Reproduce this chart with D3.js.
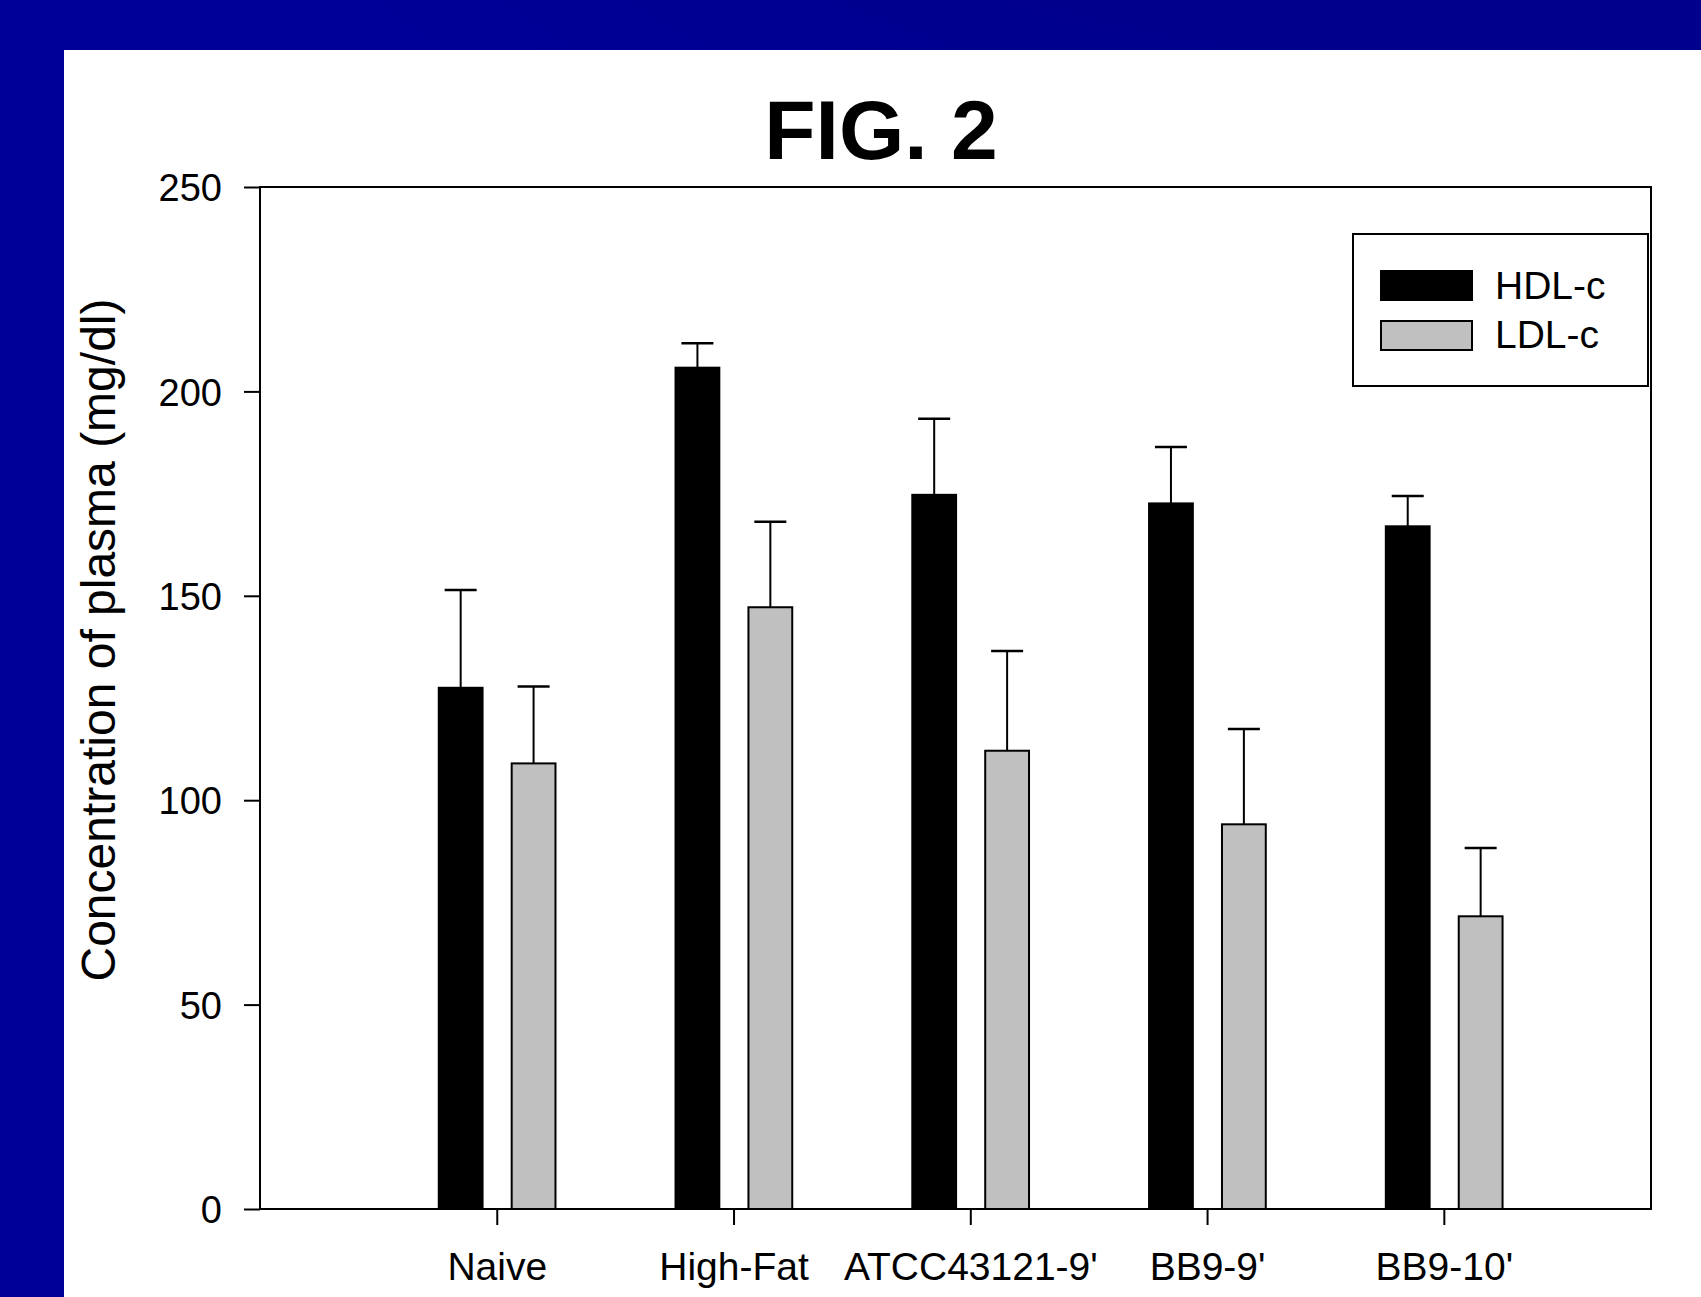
<!DOCTYPE html>
<html>
<head>
<meta charset="utf-8">
<script src="https://cdn.jsdelivr.net/npm/d3@7"></script>
<style>
    body { margin: 0; background: #000099; }
    svg { display: block; }
    text { font-family: "Liberation Sans", Arial, sans-serif; fill: #000; }
</style>
</head>
<body>
<div id="chart"></div>
<script>
// data
const categories = ["Naive", "High-Fat", "ATCC43121-9'", "BB9-9'", "BB9-10'"];
const hdlMean = [127.5, 205.8, 174.7, 172.6, 167.0];
const hdlErr = [23.9, 6.0, 18.6, 13.8, 7.4];
const ldlMean = [109.0, 147.2, 112.1, 94.1, 71.6];
const ldlErr = [18.8, 20.9, 24.4, 23.3, 16.7];
const yTicks = [0, 50, 100, 150, 200, 250];
const seriesNames = ["HDL-c", "LDL-c"];
const seriesColors = ["#000000", "#c0c0c0"];

const W = 1701, H = 1297;
let svg = d3.select("#chart").append("svg")
    .attr("width", W)
    .attr("height", H);

// slide background
let defs = svg.append("defs");
let grad = defs.append("radialGradient")
    .attr("id", "topShade")
    .attr("cx", "0.85").attr("cy", "-0.6").attr("r", "0.9");
grad.append("stop").attr("offset", "0").attr("stop-color", "#000070");
grad.append("stop").attr("offset", "1").attr("stop-color", "#000099");
svg.append("rect").attr("width", W).attr("height", H).attr("fill", "url(#topShade)");
svg.append("rect").attr("x", 64).attr("y", 50).attr("width", W - 64).attr("height", H - 50).attr("fill", "#fff");

let plot = { left: 260, right: 1651, top: 187, bottom: 1209 };

let x = d3.scaleLinear()
    .domain([0, 5.875])
    .range([plot.left, plot.right]);
let y = d3.scaleLinear()
    .domain([0, 250])
    .range([plot.bottom, plot.top]);

// title
svg.append("text")
    .attr("x", 881)
    .attr("y", 159)
    .attr("text-anchor", "middle")
    .style("font-size", "84px")
    .style("font-weight", "bold")
    .text("FIG. 2");

// y axis
let yAxis = svg.append("g")
    .attr("transform", "translate(" + plot.left + ",0)")
    .call(d3.axisLeft(y).tickValues(yTicks).tickSize(16).tickPadding(22));
yAxis.select(".domain").remove();
yAxis.selectAll("line").attr("stroke", "#000").attr("stroke-width", 2);
yAxis.selectAll("text").style("font-size", "38px").attr("dy", "0.36em");

// x axis
let xAxis = svg.append("g")
    .attr("transform", "translate(0," + plot.bottom + ")")
    .call(d3.axisBottom(x).tickValues([1, 2, 3, 4, 5]).tickFormat(d => categories[d - 1]).tickSize(16));
xAxis.select(".domain").remove();
xAxis.selectAll("line").attr("stroke", "#000").attr("stroke-width", 2);
xAxis.selectAll("text").style("font-size", "39px").attr("dy", null).attr("y", 71);

// bars
let groups = [
    { mean: hdlMean, err: hdlErr, off: -0.245 },
    { mean: ldlMean, err: ldlErr, off: 0.063 }
];
let barW = 0.185;
groups.forEach((s, si) => {
    let g = svg.append("g");
    let rows = categories.map((c, i) => ({ i: i + 1, v: s.mean[i], e: s.err[i] }));
    g.selectAll("rect")
        .data(rows)
        .enter()
        .append("rect")
        .attr("x", d => x(d.i + s.off))
        .attr("y", d => y(d.v))
        .attr("width", x(barW) - x(0))
        .attr("height", d => y(0) - y(d.v))
        .attr("fill", seriesColors[si])
        .attr("stroke", "#000")
        .attr("stroke-width", 2);
    g.selectAll("line.err")
        .data(rows)
        .enter()
        .append("line")
        .attr("class", "err")
        .attr("x1", d => x(d.i + s.off + barW / 2))
        .attr("x2", d => x(d.i + s.off + barW / 2))
        .attr("y1", d => y(d.v))
        .attr("y2", d => y(d.v + d.e))
        .attr("stroke", "#000")
        .attr("stroke-width", 2);
    g.selectAll("line.cap")
        .data(rows)
        .enter()
        .append("line")
        .attr("class", "cap")
        .attr("x1", d => x(d.i + s.off + barW / 2) - 16)
        .attr("x2", d => x(d.i + s.off + barW / 2) + 16)
        .attr("y1", d => y(d.v + d.e))
        .attr("y2", d => y(d.v + d.e))
        .attr("stroke", "#000")
        .attr("stroke-width", 2.5);
});

// frame
svg.append("rect")
    .attr("x", plot.left)
    .attr("y", plot.top)
    .attr("width", plot.right - plot.left)
    .attr("height", plot.bottom - plot.top)
    .attr("fill", "none")
    .attr("stroke", "#000")
    .attr("stroke-width", 2);

// y label
svg.append("text")
    .attr("transform", "translate(115,640) rotate(-90)")
    .attr("text-anchor", "middle")
    .style("font-size", "48px")
    .text("Concentration of plasma (mg/dl)");

// legend
let lg = svg.append("g");
lg.append("rect")
    .attr("x", 1353).attr("y", 234)
    .attr("width", 295).attr("height", 152)
    .attr("fill", "#fff").attr("stroke", "#000").attr("stroke-width", 2);
seriesNames.forEach((n, i) => {
    lg.append("rect")
        .attr("x", 1381).attr("y", 271 + i * 50)
        .attr("width", 91).attr("height", 29)
        .attr("fill", seriesColors[i]).attr("stroke", "#000").attr("stroke-width", 2);
    lg.append("text")
        .attr("x", 1495).attr("y", 299 + i * 49)
        .style("font-size", "39px")
        .text(n);
});
</script>
</body>
</html>
